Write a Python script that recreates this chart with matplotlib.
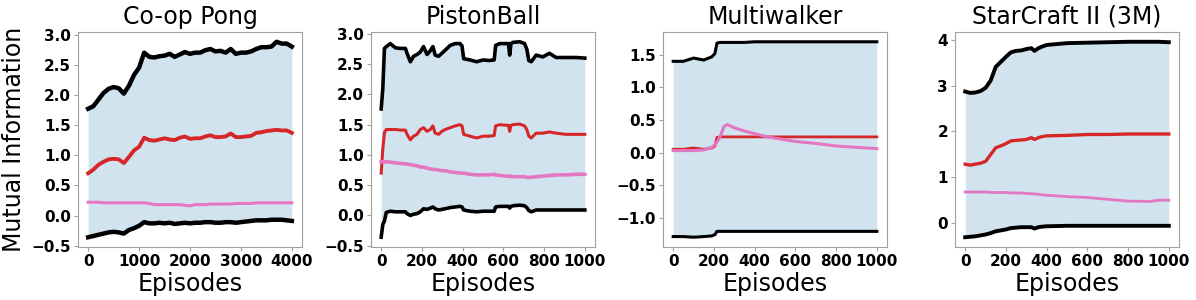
# Mutual information bounds over training, four environments

import matplotlib
matplotlib.use("Agg")
import matplotlib.pyplot as plt


# ------------------------------------------------------------
# Data
# ------------------------------------------------------------
TITLES = ["Co-op Pong", "PistonBall", "Multiwalker", "StarCraft II (3M)"]

X_TICKS = [
    [0, 1000, 2000, 3000, 4000],
    [0, 200, 400, 600, 800, 1000],
    [0, 200, 400, 600, 800, 1000],
    [0, 200, 400, 600, 800, 1000],
]
Y_TICKS = [
    [-0.5, 0.0, 0.5, 1.0, 1.5, 2.0, 2.5, 3.0],
    [-0.5, 0.0, 0.5, 1.0, 1.5, 2.0, 2.5, 3.0],
    [-1.0, -0.5, 0.0, 0.5, 1.0, 1.5],
    [0, 1, 2, 3, 4],
]
Y_FMT = ["{:.1f}", "{:.1f}", "{:.1f}", "{:.0f}"]

pong_ep = [0, 100, 200, 300, 400, 500, 600, 700, 800, 900, 1000, 1100, 1200, 1300, 1400,
           1500, 1600, 1700, 1800, 1900, 2000, 2100, 2200, 2300, 2400, 2500, 2600, 2700,
           2800, 2900, 3000, 3100, 3200, 3300, 3400, 3500, 3600, 3700, 3800, 3900, 4000]
pong_upper = [1.77, 1.81, 1.92, 2.03, 2.10, 2.13, 2.11, 2.02, 2.15, 2.33, 2.45, 2.70, 2.63,
              2.62, 2.64, 2.65, 2.68, 2.63, 2.67, 2.71, 2.68, 2.70, 2.70, 2.74, 2.76, 2.72,
              2.73, 2.70, 2.76, 2.68, 2.70, 2.70, 2.72, 2.76, 2.79, 2.79, 2.80, 2.88, 2.85,
              2.85, 2.80]
pong_red = [0.70, 0.76, 0.84, 0.89, 0.93, 0.94, 0.93, 0.87, 0.97, 1.08, 1.14, 1.29, 1.25,
            1.24, 1.26, 1.28, 1.26, 1.25, 1.29, 1.31, 1.27, 1.28, 1.28, 1.31, 1.33, 1.30,
            1.30, 1.31, 1.36, 1.30, 1.30, 1.31, 1.32, 1.37, 1.38, 1.40, 1.41, 1.42, 1.41,
            1.41, 1.37]
pong_pink = [0.22, 0.22, 0.22, 0.21, 0.21, 0.21, 0.21, 0.21, 0.21, 0.21, 0.21, 0.21, 0.20,
             0.18, 0.18, 0.18, 0.18, 0.18, 0.18, 0.17, 0.16, 0.18, 0.18, 0.18, 0.19, 0.19,
             0.19, 0.19, 0.19, 0.20, 0.20, 0.20, 0.20, 0.21, 0.21, 0.21, 0.21, 0.21, 0.21,
             0.21, 0.21]
pong_lower = [-0.36, -0.34, -0.32, -0.30, -0.28, -0.27, -0.28, -0.30, -0.24, -0.21, -0.17,
              -0.11, -0.13, -0.13, -0.12, -0.13, -0.12, -0.14, -0.13, -0.12, -0.13, -0.12,
              -0.12, -0.11, -0.11, -0.12, -0.12, -0.11, -0.11, -0.12, -0.11, -0.10, -0.09,
              -0.08, -0.08, -0.08, -0.07, -0.07, -0.07, -0.08, -0.09]

piston_ep = [0, 8, 16, 25, 45, 70, 95, 119, 127, 143, 159, 176, 192, 208, 225, 241, 254, 265,
             282, 298, 314, 339, 363, 387, 397, 405, 436, 469, 501, 530, 555, 562, 582, 614,
             625, 631, 637, 647, 680, 704, 715, 725, 737, 761, 794, 826, 859, 908, 957, 1000]
piston_upper = [1.76, 2.10, 2.76, 2.79, 2.84, 2.77, 2.76, 2.76, 2.68, 2.54, 2.63, 2.66, 2.70,
                2.79, 2.66, 2.72, 2.79, 2.65, 2.63, 2.68, 2.73, 2.81, 2.84, 2.84, 2.80, 2.59,
                2.57, 2.54, 2.57, 2.56, 2.57, 2.81, 2.84, 2.84, 2.84, 2.65, 2.84, 2.86, 2.87,
                2.84, 2.75, 2.56, 2.54, 2.65, 2.62, 2.68, 2.61, 2.61, 2.61, 2.60]
piston_red = [0.70, 1.10, 1.37, 1.42, 1.42, 1.42, 1.41, 1.41, 1.34, 1.25, 1.31, 1.34, 1.42,
              1.45, 1.39, 1.42, 1.48, 1.36, 1.34, 1.39, 1.42, 1.45, 1.48, 1.50, 1.48, 1.34,
              1.31, 1.28, 1.31, 1.31, 1.32, 1.48, 1.50, 1.49, 1.49, 1.39, 1.49, 1.50, 1.51,
              1.48, 1.42, 1.31, 1.28, 1.36, 1.36, 1.38, 1.36, 1.34, 1.34, 1.34]
piston_pink = [0.89, 0.89, 0.88, 0.89, 0.88, 0.87, 0.86, 0.85, 0.85, 0.84, 0.83, 0.82, 0.80,
               0.80, 0.78, 0.77, 0.76, 0.76, 0.75, 0.74, 0.74, 0.72, 0.71, 0.70, 0.70, 0.70,
               0.68, 0.67, 0.67, 0.67, 0.68, 0.67, 0.66, 0.65, 0.65, 0.64, 0.65, 0.64, 0.64,
               0.64, 0.63, 0.63, 0.63, 0.64, 0.65, 0.66, 0.67, 0.67, 0.68, 0.68]
piston_lower = [-0.36, -0.15, -0.09, 0.05, 0.07, 0.06, 0.06, 0.06, 0.03, 0.00, 0.02, 0.03,
                0.06, 0.11, 0.10, 0.12, 0.14, 0.11, 0.09, 0.10, 0.11, 0.13, 0.14, 0.15, 0.14,
                0.09, 0.07, 0.06, 0.07, 0.07, 0.07, 0.14, 0.15, 0.15, 0.15, 0.12, 0.15, 0.16,
                0.17, 0.16, 0.13, 0.08, 0.06, 0.09, 0.09, 0.09, 0.09, 0.09, 0.09, 0.09]

walker_ep = [0, 50, 100, 150, 190, 205, 215, 230, 250, 265, 300, 350, 400, 450, 500, 600,
             700, 800, 900, 1000]
walker_upper = [1.40, 1.40, 1.45, 1.42, 1.47, 1.52, 1.68, 1.69, 1.69, 1.69, 1.69, 1.69, 1.70,
                1.70, 1.70, 1.70, 1.70, 1.70, 1.70, 1.70]
walker_red = [0.05, 0.05, 0.07, 0.05, 0.07, 0.10, 0.23, 0.24, 0.24, 0.24, 0.24, 0.24, 0.24,
              0.24, 0.24, 0.24, 0.24, 0.24, 0.24, 0.24]
walker_pink = [0.03, 0.03, 0.03, 0.04, 0.08, 0.12, 0.16, 0.24, 0.40, 0.43, 0.38, 0.33, 0.29,
               0.25, 0.22, 0.17, 0.14, 0.10, 0.08, 0.06]
walker_lower = [-1.29, -1.29, -1.30, -1.29, -1.28, -1.26, -1.21, -1.21, -1.21, -1.21, -1.21,
                -1.21, -1.21, -1.21, -1.21, -1.21, -1.21, -1.21, -1.21, -1.21]

sc2_ep = [0, 25, 50, 75, 100, 125, 150, 175, 200, 225, 250, 275, 300, 325, 340, 360, 375,
          400, 500, 600, 700, 800, 850, 900, 950, 1000]
sc2_upper = [2.87, 2.84, 2.85, 2.88, 2.95, 3.11, 3.41, 3.52, 3.63, 3.73, 3.76, 3.77, 3.80,
             3.82, 3.76, 3.82, 3.85, 3.89, 3.93, 3.94, 3.95, 3.96, 3.96, 3.96, 3.96, 3.95]
sc2_red = [1.28, 1.26, 1.28, 1.30, 1.34, 1.49, 1.64, 1.68, 1.73, 1.79, 1.80, 1.81, 1.82, 1.86,
           1.82, 1.86, 1.88, 1.90, 1.91, 1.93, 1.93, 1.94, 1.94, 1.94, 1.94, 1.94]
sc2_pink = [0.67, 0.67, 0.67, 0.67, 0.67, 0.66, 0.66, 0.66, 0.66, 0.65, 0.65, 0.65, 0.64,
            0.63, 0.63, 0.62, 0.61, 0.60, 0.57, 0.55, 0.51, 0.47, 0.47, 0.46, 0.49, 0.49]
sc2_lower = [-0.32, -0.31, -0.30, -0.28, -0.26, -0.23, -0.19, -0.17, -0.15, -0.12, -0.11,
             -0.10, -0.10, -0.10, -0.13, -0.10, -0.09, -0.08, -0.07, -0.07, -0.07, -0.07,
             -0.07, -0.07, -0.07, -0.07]

PANELS = [
    (pong_ep, pong_upper, pong_red, pong_pink, pong_lower),
    (piston_ep, piston_upper, piston_red, piston_pink, piston_lower),
    (walker_ep, walker_upper, walker_red, walker_pink, walker_lower),
    (sc2_ep, sc2_upper, sc2_red, sc2_pink, sc2_lower),
]

# line widths per panel (black, red, pink) - the noisier runs look thicker
LINE_WIDTHS = [(3.2, 2.8, 2.2), (2.6, 2.2, 2.6), (2.2, 2.0, 2.2), (2.8, 2.4, 2.0)]


# ------------------------------------------------------------
# Plot
# ------------------------------------------------------------
def main():
    fig = plt.figure(figsize=(11.96, 3.0), dpi=100)
    W, H = 1196.0, 300.0
    lefts = [78, 371, 663, 955]
    ax_w, ax_top, ax_bot = 224, 32, 247

    for i, (ep, upper, red, pink, lower) in enumerate(PANELS):
        lw_k, lw_r, lw_p = LINE_WIDTHS[i]
        ax = fig.add_axes([lefts[i] / W, 1 - ax_bot / H, ax_w / W, (ax_bot - ax_top) / H])
        ax.fill_between(ep, lower, upper, color="tab:blue", alpha=0.2, linewidth=0)
        ax.plot(ep, upper, color="black", linewidth=lw_k)
        ax.plot(ep, lower, color="black", linewidth=lw_k)
        ax.plot(ep, red, color="tab:red", linewidth=lw_r)
        ax.plot(ep, pink, color="tab:pink", linewidth=lw_p)

        ax.set_title(TITLES[i], fontsize=17)
        ax.set_xlabel("Episodes", fontsize=17, labelpad=2)
        if i == 0:
            ax.set_ylabel("Mutual Information", fontsize=17)

        ax.set_xticks(X_TICKS[i])
        ax.set_xticklabels([str(t) for t in X_TICKS[i]], fontweight="bold", fontsize=11)
        ax.set_yticks(Y_TICKS[i])
        ax.set_yticklabels([Y_FMT[i].format(t).replace("-", "\u2212") for t in Y_TICKS[i]],
                           fontweight="bold", fontsize=11)
        ax.tick_params(color="#a0a0a0", length=3, pad=2)
        for s in ax.spines.values():
            s.set_color("#a0a0a0")

    fig.savefig("out.png", dpi=100)


if __name__ == "__main__":
    main()
